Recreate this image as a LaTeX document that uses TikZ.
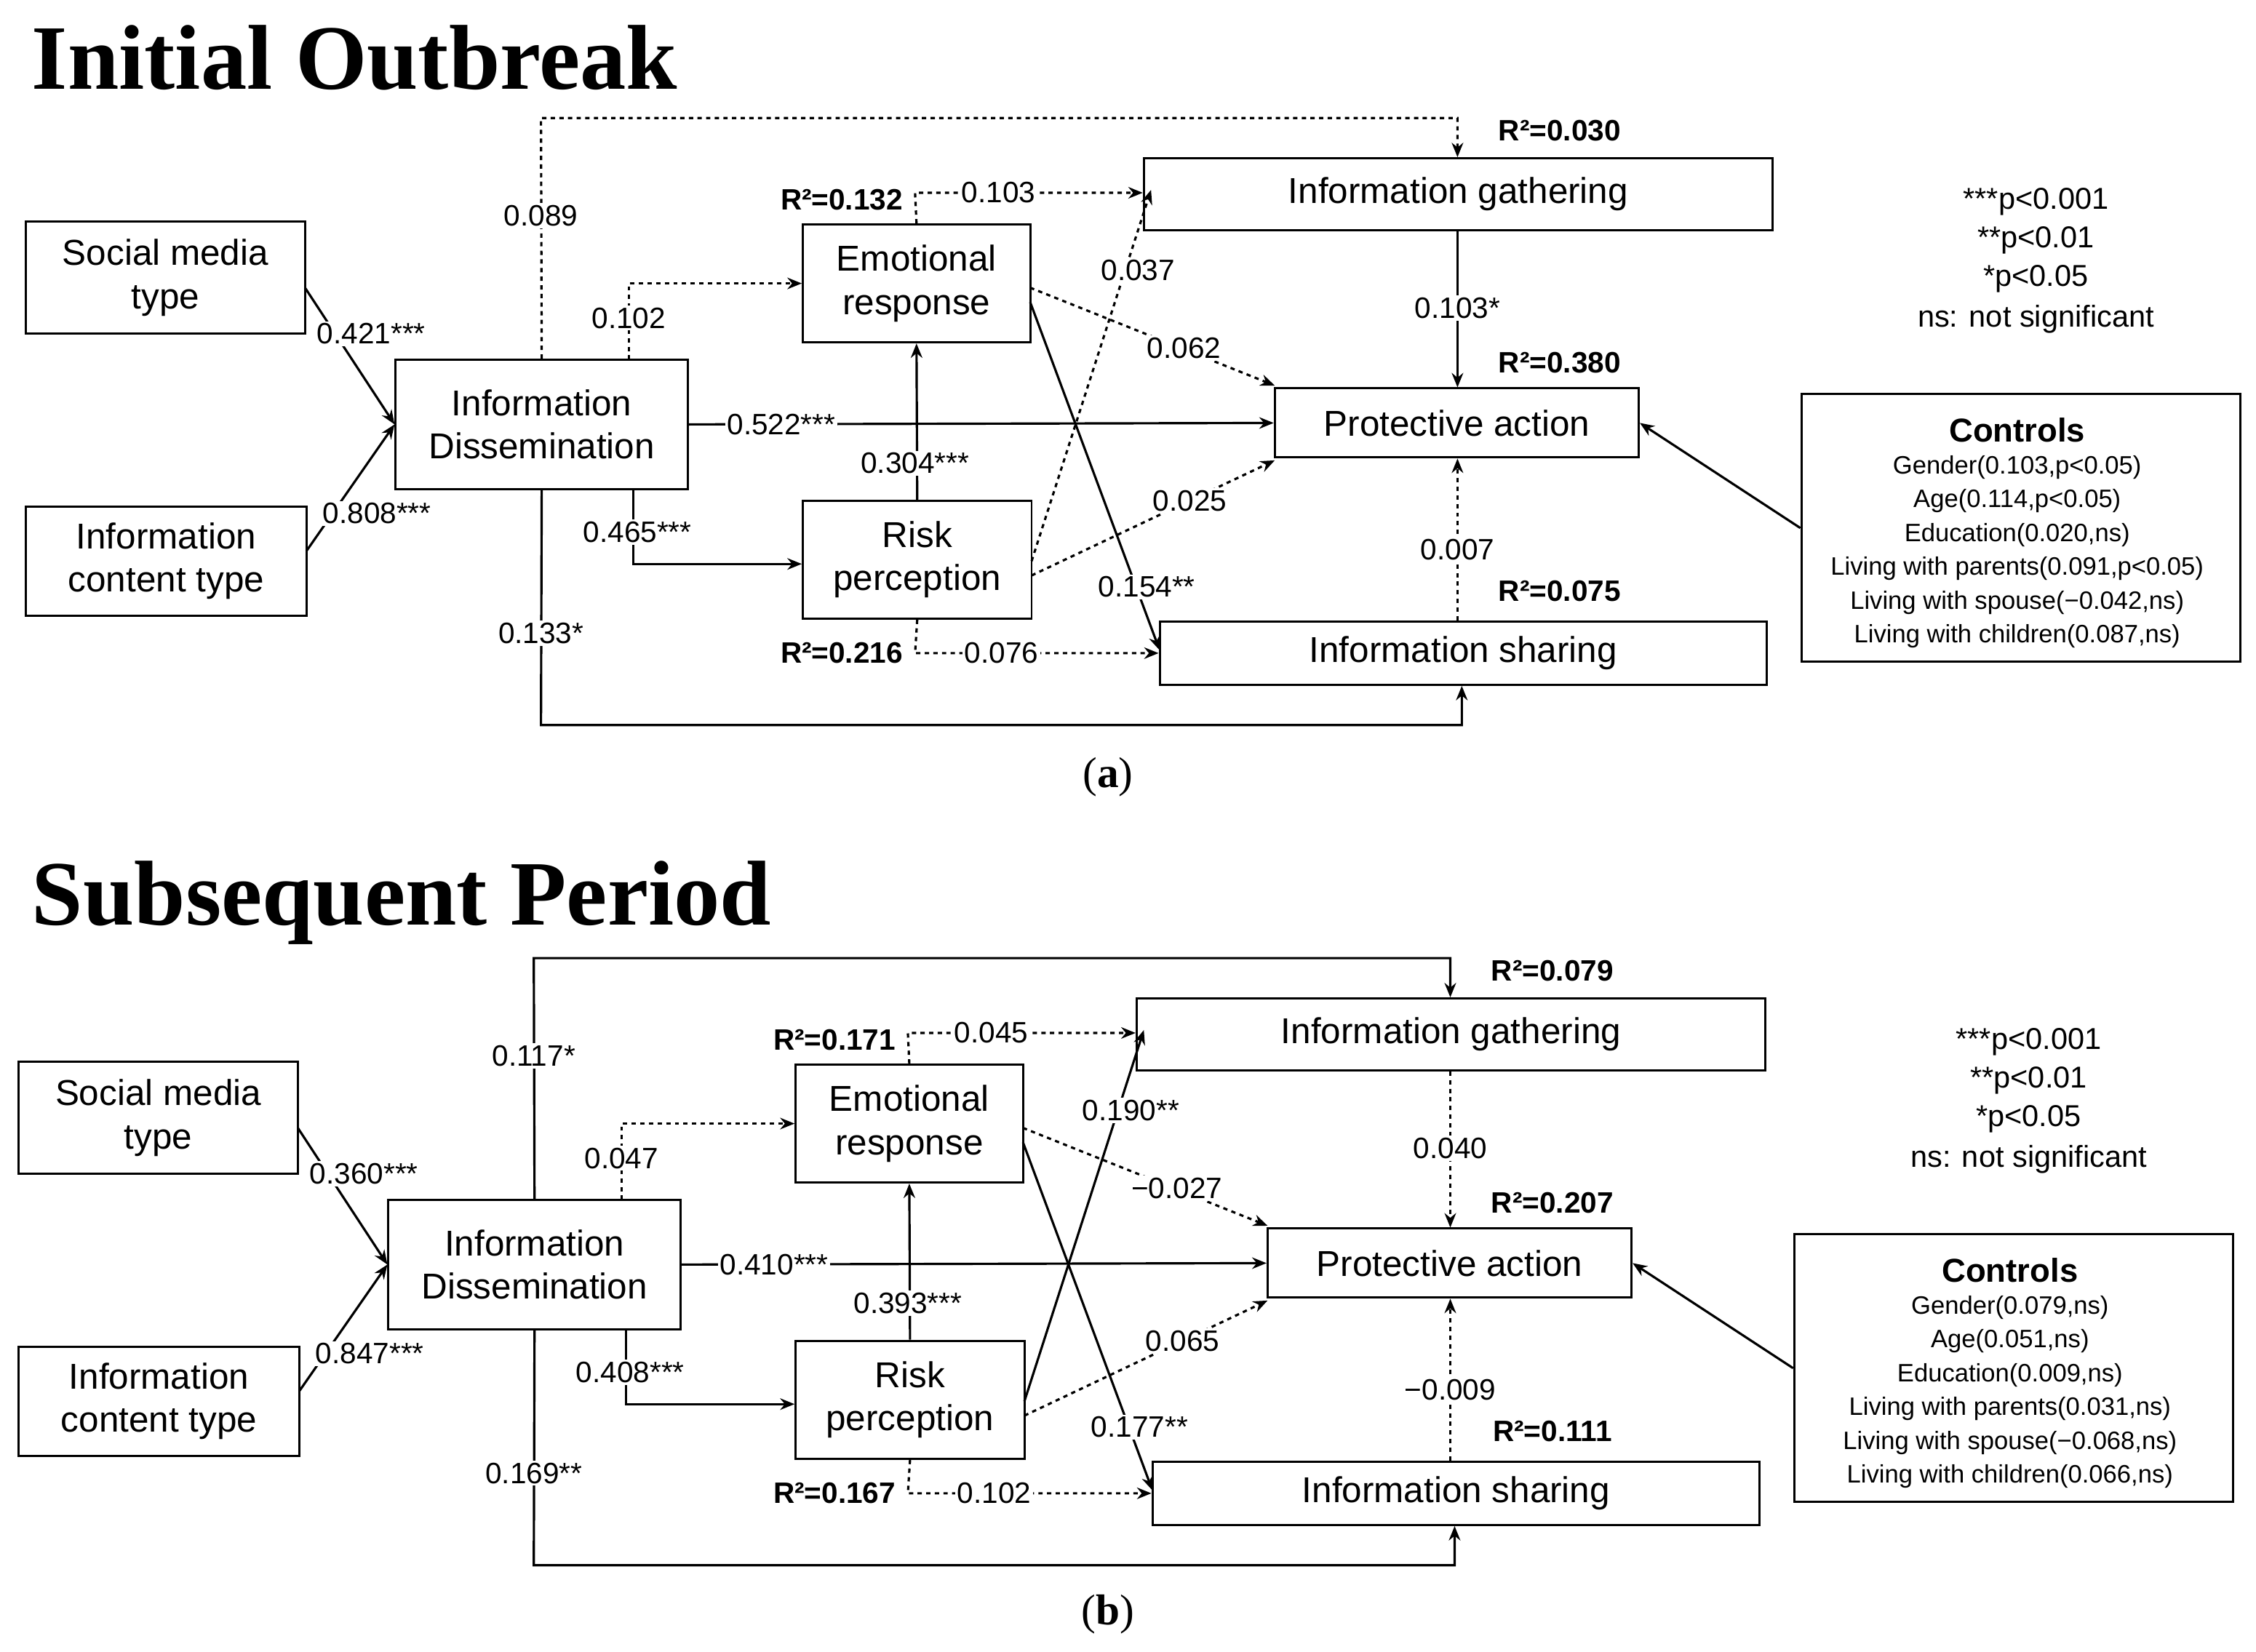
\documentclass[tikz,border=0pt]{standalone}
\usepackage{fontspec}
\setmainfont{Liberation Sans}
\newfontfamily\serifb{Liberation Serif}
\usetikzlibrary{arrows.meta}
\tikzset{
 box/.style={draw,line width=1.5pt,inner sep=0pt,align=center,font=\fontsize{25}{30}\selectfont},
 ln/.style={line width=1.6pt,-{Stealth[length=10pt,width=8pt]}},
 lab/.style={fill=white,inner sep=1.5pt,font=\fontsize{20.5}{24}\selectfont},
 rr/.style={inner sep=1pt,font=\bfseries\fontsize{20.5}{24}\selectfont},
 ctl/.style={font=\fontsize{17.5}{20}\selectfont},
 leg/.style={font=\fontsize{21}{24}\selectfont},
}
\newcommand\drawpanel{%
 \node[box,minimum width=194pt,minimum height=78pt] (\p smt) at (115,193) {Social media\\type};
 \node[box,minimum width=195pt,minimum height=76pt] (\p ict) at (115.5,390) {Information\\content type};
 \node[box,minimum width=203pt,minimum height=90pt] (\p id) at (376.5,295) {Information\\Dissemination};
 \node[box,minimum width=158pt,minimum height=82pt] (\p er) at (637,197) {Emotional\\response};
 \node[box,minimum width=159pt,minimum height=82pt] (\p rp) at (637.5,389) {Risk\\perception};
 \node[box,minimum width=437pt,minimum height=50pt] (\p ig) at (1013.5,135) {Information gathering};
 \node[box,minimum width=253pt,minimum height=48pt] (\p pa) at (1012.5,294) {Protective action};
 \node[box,minimum width=422pt,minimum height=44pt] (\p is) at (1017,454) {Information sharing};
 \node[draw,line width=1.5pt,minimum width=305pt,minimum height=186pt] (\p ctl) at (1404.5,367) {};
 % connectors
 \draw[ln] (212,200) -- (\p id.west);
 \draw[ln] (213,383) -- (\p id.west);
 \draw[ln,\sTop] (\p id.north) -- (376,82) -- (1013,82) -- (\p ig.north-|1013,0);
 \draw[ln,dashed] (437,250) -- (437,197) -- (\p er.west);
 \draw[ln] (\p id.east) -- (\p pa.west);
 \draw[ln] (440,340) -- (440,392) -- (\p rp.west|-0,392);
 \draw[ln] (\p id.south) -- (376,504) -- (1016,504) -- (\p is.south-|1016,0);
 \draw[ln] (\p rp.north) -- (\p er.south);
 \draw[ln,dashed] (\p er.north) -- (636,134) -- (\p ig.west|-0,134);
 \draw[ln,dashed] (\p rp.south) -- (636,454) -- (\p is.west|-0,454);
 \draw[ln,dashed] (716,200) -- (886,268);
 \draw[ln] (716,210) -- (806,452);
 \draw[ln,\sRG] (717,390) -- (800,132);
 \draw[ln,dashed] (717,400) -- (886,320);
 \draw[ln,\sGP] (\p ig.south-|1013,0) -- (\p pa.north-|1013,0);
 \draw[ln,dashed] (\p is.north-|1013,0) -- (\p pa.south-|1013,0);
 \draw[ln] (\p ctl.west) -- (\p pa.east);
 % labels
 \node[lab] at (258,232) {\la};
 \node[lab] at (262,357) {\lb};
 \node[lab] at (376,150) {\lc};
 \node[lab] at (437,221) {\ld};
 \node[lab] at (543,295) {\le};
 \node[lab] at (443,370) {\lf};
 \node[lab] at (376,440) {\lg};
 \node[lab] at (636,322) {\lh};
 \node[lab] at (694,134) {\li};
 \node[lab] at (696,454) {\lj};
 \node[lab] at (823,242) {\lk};
 \node[lab] at (797,408) {\ll};
 \node[lab] at (791,188) {\lm};
 \node[lab] at (827,348) {\ln};
 \node[lab] at (1013,214) {\lo};
 \node[lab] at (1013,382) {\lp};
 \node[rr,fill=white] at (585,139) {R²=\ra};
 \node[rr,fill=white] at (585,454) {R²=\rb};
 \node[rr] at (1084,91) {R²=\rc};
 \node[rr] at (1084,252) {R²=\rd};
 \node[rr] at (1084,411) {R²=\re};
 \node[leg] at (1415,140) {***p<0.001};
 \node[leg] at (1415,167) {**p<0.01};
 \node[leg] at (1415,194) {*p<0.05};
 \node[leg] at (1415,222) {ns: not significant};
 \node[font=\bfseries\fontsize{23}{26}\selectfont] at (1402,299) {Controls};
 \node[ctl] at (1402,325) {\ca};
 \node[ctl] at (1402,348) {\cb};
 \node[ctl] at (1402,372) {\cc};
 \node[ctl] at (1402,395) {\cd};
 \node[ctl] at (1402,419) {\ce};
 \node[ctl] at (1402,442) {\cf};
}
\begin{document}
\begin{tikzpicture}[x=1pt,y=-1pt]
\useasboundingbox (0,0) rectangle (1568,1148);
\node[anchor=base west,inner sep=0pt,font=\serifb\bfseries\fontsize{64}{70}\selectfont] (t1) at (22,62) {Initial Outbreak};
\node[inner sep=0pt,font=\serifb\fontsize{30}{34}\selectfont] (ta) at (770,540) {(\textbf{a})};
\def\p{a}
\def\sTop{dashed}\def\sRG{dashed}\def\sGP{solid}
\def\la{0.421***}\def\lb{0.808***}\def\lc{0.089}\def\ld{0.102}\def\le{0.522***}
\def\lf{0.465***}\def\lg{0.133*}\def\lh{0.304***}\def\li{0.103}\def\lj{0.076}
\def\lk{0.062}\def\ll{0.154**}\def\lm{0.037}\def\ln{0.025}\def\lo{0.103*}\def\lp{0.007}
\def\ra{0.132}\def\rb{0.216}\def\rc{0.030}\def\rd{0.380}\def\re{0.075}
\def\ca{Gender(0.103,p<0.05)}\def\cb{Age(0.114,p<0.05)}\def\cc{Education(0.020,ns)}
\def\cd{Living with parents(0.091,p<0.05)}\def\ce{Living with spouse(−0.042,ns)}\def\cf{Living with children(0.087,ns)}
\drawpanel
\node[anchor=base west,inner sep=0pt,font=\serifb\bfseries\fontsize{64}{70}\selectfont] (t2) at (22,643) {Subsequent Period};
\node[inner sep=0pt,font=\serifb\fontsize{30}{34}\selectfont] (tb) at (770,1122) {(\textbf{b})};
\begin{scope}[shift={(-5,584)}]
\def\p{b}
\def\sTop{solid}\def\sRG{solid}\def\sGP{dashed}
\def\la{0.360***}\def\lb{0.847***}\def\lc{0.117*}\def\ld{0.047}\def\le{0.410***}
\def\lf{0.408***}\def\lg{0.169**}\def\lh{0.393***}\def\li{0.045}\def\lj{0.102}
\def\lk{−0.027}\def\ll{0.177**}\def\lm{0.190**}\def\ln{0.065}\def\lo{0.040}\def\lp{−0.009}
\def\ra{0.171}\def\rb{0.167}\def\rc{0.079}\def\rd{0.207}\def\re{0.111}
\def\ca{Gender(0.079,ns)}\def\cb{Age(0.051,ns)}\def\cc{Education(0.009,ns)}
\def\cd{Living with parents(0.031,ns)}\def\ce{Living with spouse(−0.068,ns)}\def\cf{Living with children(0.066,ns)}
\drawpanel
\end{scope}
\end{tikzpicture}
\end{document}
